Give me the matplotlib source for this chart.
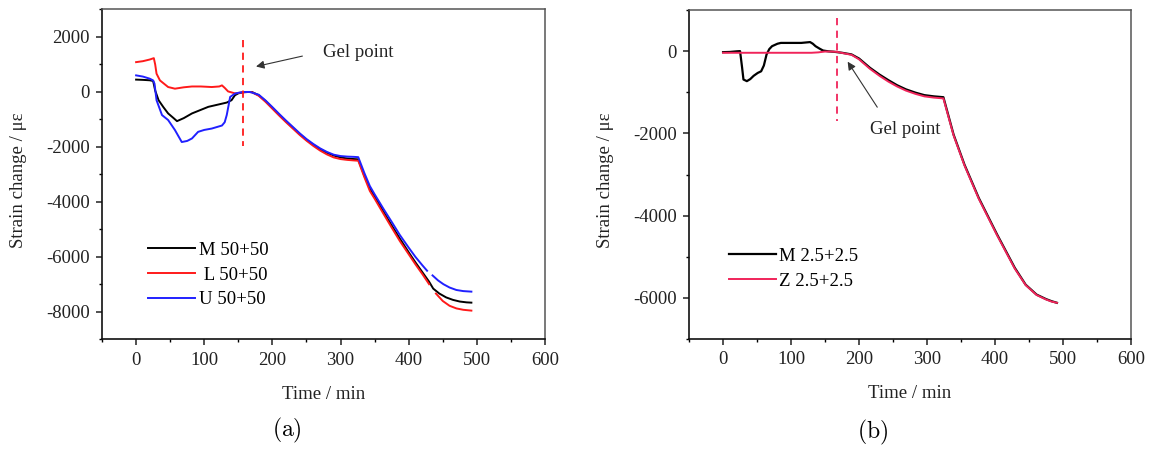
import numpy as np
import matplotlib
matplotlib.use("Agg")
import matplotlib.pyplot as plt
from matplotlib.ticker import MultipleLocator

plt.rcParams["font.family"] = ["Liberation Serif", "DejaVu Serif"]
plt.rcParams["mathtext.fontset"] = "cm"
plt.rcParams["axes.unicode_minus"] = False

nan = np.nan

# (a) strain change of the 50+50 specimens
m50_t = [0, 10, 20, 25, 28, 33, 40, 47, 55, 60, 70, 82, 95, 106, 120, 133, 140, 145, 150, 157,
         165, 170, 180, 190, 200, 210, 220, 230, 240, 250, 260, 270, 280, 290, 300, 310, 320, 326,
         335, 343, 350, 363, 375, 387, 400, 410, 420, 430, 436, 445, 455, 465, 475, 485, 492]
m50_v = [450, 440, 425, 400, 50, -300, -550, -780, -950, -1060, -950, -780, -650, -540, -460, -385, -300, -120, -50, -10,
         0, 0, -120, -330, -580, -830, -1070, -1300, -1530, -1740, -1920, -2080, -2210, -2310, -2380, -2420, -2440, -2450,
         -3050, -3500, -3800, -4350, -4850, -5330, -5830, -6200, -6550, -6900, -7150, -7330, -7470, -7560, -7620, -7650, -7660]

l50_t = [0, 10, 20, 26, 28, 30, 35, 40, 47, 57, 70, 82, 95, 111, 122, 126, 130, 135, 145, 152, 157,
         165, 170, 180, 190, 200, 210, 220, 230, 240, 250, 260, 270, 280, 290, 300, 310, 320, 326,
         335, 343, 350, 363, 375, 387, 400, 410, 420, 430, 435, 440, 450, 460, 470, 480, 492]
l50_v = [1085, 1120, 1180, 1230, 1000, 665, 420, 320, 180, 120, 170, 200, 200, 180, 200, 240, 150, 20, -50, -30, -10,
         0, -10, -140, -360, -610, -860, -1100, -1330, -1560, -1770, -1960, -2130, -2270, -2380, -2440, -2470, -2490, -2500,
         -3100, -3600, -3880, -4430, -4930, -5420, -5900, -6270, -6620, -6990, nan, -7330, -7600, -7775, -7870, -7920, -7950]

u50_t = [0, 10, 20, 25, 27, 30, 38, 47, 57, 67, 75, 82, 91, 100, 111, 126, 130, 133, 136, 138, 145, 152,
         160, 167, 180, 190, 200, 210, 220, 230, 240, 250, 260, 270, 280, 290, 300, 310, 320, 326,
         335, 343, 350, 363, 375, 387, 400, 410, 420, 427, 431, 435, 443, 451, 460, 470, 480, 492]
u50_v = [604, 560, 484, 420, 300, -300, -840, -1020, -1385, -1820, -1780, -1690, -1450, -1380, -1330, -1220, -1100, -840, -450, -180, -60, -20,
         0, 0, -100, -310, -550, -800, -1040, -1270, -1500, -1710, -1890, -2050, -2180, -2280, -2330, -2350, -2360, -2370,
         -2950, -3420, -3720, -4250, -4720, -5200, -5660, -6000, -6300, -6500, nan, -6670, -6850, -6990, -7110, -7200, -7240, -7260]

# (b) strain change of the 2.5+2.5 specimens
m25_t = [0, 10, 20, 25, 28, 30, 35, 40, 45, 51, 56, 60, 64, 68, 72, 80, 85, 100, 115, 128, 132, 136, 142, 147, 155, 163,
         175, 189, 200, 216, 230, 243, 256, 269, 283, 296, 310, 324, 339, 355, 376, 403, 429, 445, 461, 475, 483, 491]
m25_v = [-25, -20, -5, 0, -400, -690, -730, -680, -600, -530, -490, -350, -80, 50, 120, 180, 200, 200, 200, 220, 180, 120, 60, 15, -5, -15,
         -40, -80, -180, -405, -570, -705, -830, -930, -1010, -1070, -1100, -1120, -2030, -2760, -3570, -4460, -5270, -5680, -5920, -6030, -6080, -6120]

z25_t = [0, 20, 50, 100, 130, 140, 150, 160, 168, 175, 189, 200, 216, 230, 243, 256, 269, 283, 296, 310, 324,
         339, 355, 376, 403, 429, 445, 461, 475, 483, 491]
z25_v = [-40, -40, -40, -40, -40, -30, -10, -10, -20, -45, -90, -200, -430, -600, -740, -860, -960, -1040, -1100, -1130, -1150,
         -2050, -2780, -3590, -4480, -5290, -5690, -5930, -6040, -6090, -6120]

gel_a = 157
gel_b = 168

RED = "#ff1a1a"
BLUE = "#2020ff"
PINK = "#f0245a"


def style(ax, ylim, ymajor):
    ax.set_xlim(-50, 600)
    ax.set_ylim(*ylim)
    ax.xaxis.set_major_locator(MultipleLocator(100))
    ax.xaxis.set_minor_locator(MultipleLocator(50))
    ax.yaxis.set_major_locator(MultipleLocator(ymajor))
    ax.yaxis.set_minor_locator(MultipleLocator(ymajor / 2))
    ax.tick_params(which="major", direction="out", length=4.5, width=1.1, labelsize=13.5,
                   pad=4.5, colors="#222222", top=False, right=False)
    ax.tick_params(which="minor", direction="out", length=2.5, width=1.0, top=False, right=False)
    for side in ["left", "bottom"]:
        ax.spines[side].set_linewidth(1.2)
        ax.spines[side].set_color("#111111")
    for side in ["top", "right"]:
        ax.spines[side].set_linewidth(1.1)
        ax.spines[side].set_color("#555555")
    ax.set_xlabel("Time / min", fontsize=13.5, color="#222222")
    ax.set_ylabel("Strain change / με", fontsize=13.5, color="#222222")


fig = plt.figure(figsize=(11.49, 4.49), dpi=100)
ax1 = fig.add_axes([0.0888, 0.2439, 0.3855, 0.7350])
ax2 = fig.add_axes([0.5997, 0.2450, 0.3847, 0.7327])

# Panel (a)
ax1.plot(m50_t, m50_v, color="black", lw=1.4, label="M 50+50")
ax1.plot(l50_t, l50_v, color=RED, lw=1.4, label=" L 50+50")
ax1.plot(u50_t, u50_v, color=BLUE, lw=1.4, label="U 50+50")
ax1.plot([gel_a, gel_a], [1900, -1950], color=RED, lw=1.3, ls=(0, (4, 3)))
ax1.annotate("", xy=(172, 904), xytext=(248, 1327),
             arrowprops=dict(arrowstyle="-|>", color="#333333", lw=0.8, mutation_scale=12))
ax1.text(274, 1450, "Gel point", fontsize=13.5, va="center", ha="left", color="#222222")
style(ax1, (-9000, 3000), 2000)
ax1.legend(loc="upper left", bbox_to_anchor=(0.104, 0.296), frameon=False, fontsize=13.5,
           handlelength=2.5, handletextpad=0.2, labelspacing=0.4, borderpad=0, borderaxespad=0)

# Panel (b)
ax2.plot(m25_t, m25_v, color="black", lw=1.6, label="M 2.5+2.5")
ax2.plot(z25_t, z25_v, color=PINK, lw=1.4, label="Z 2.5+2.5")
ax2.plot([gel_b, gel_b], [800, -1700], color=PINK, lw=1.3, ls=(0, (4, 3)))
ax2.annotate("", xy=(181, -200), xytext=(229, -1420),
             arrowprops=dict(arrowstyle="-|>", color="#333333", lw=0.8, mutation_scale=12))
ax2.text(216, -1900, "Gel point", fontsize=13.5, va="center", ha="left", color="#222222")
style(ax2, (-7000, 1000), 2000)
ax2.legend(loc="upper left", bbox_to_anchor=(0.09, 0.277), frameon=False, fontsize=13.5,
           handlelength=2.5, handletextpad=0.2, labelspacing=0.4, borderpad=0, borderaxespad=0)

for ax in [ax1, ax2]:
    ax.xaxis.set_label_coords(0.5, -0.14)
    ax.yaxis.set_label_coords(-0.17, 0.483)

# Sub-figure captions
fig.text(0.2498, 0.042, r"$\mathrm{(a)}$", fontsize=17, ha="center", va="center")
fig.text(0.7590, 0.036, r"$\mathrm{(b)}$", fontsize=17, ha="center", va="center")

fig.savefig("out.png", dpi=100)
